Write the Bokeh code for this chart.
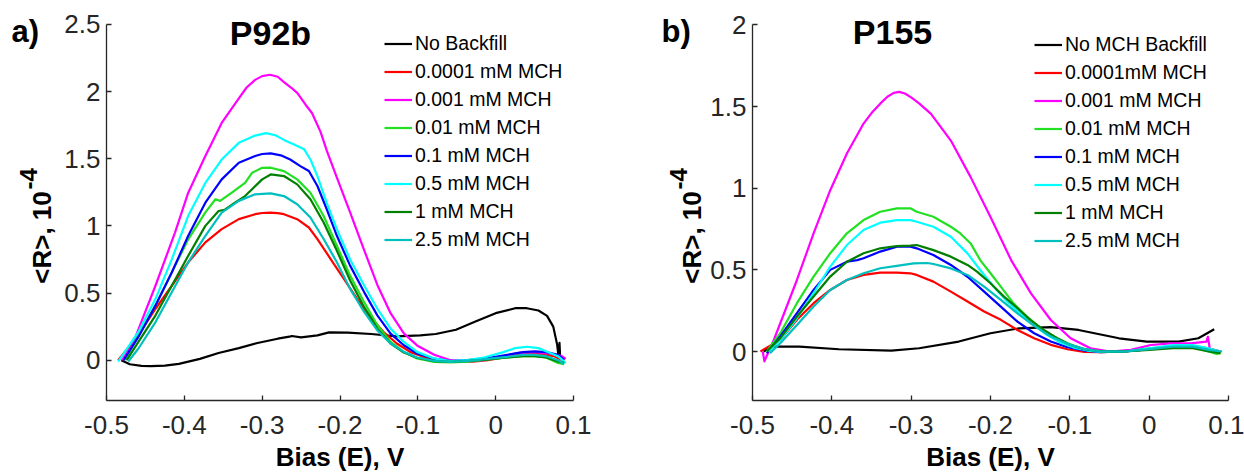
import math
from bokeh.plotting import figure
from bokeh.models import Range1d, FixedTicker, Label, Legend, LegendItem
from bokeh.layouts import row
from bokeh.embed import file_html
from bokeh.resources import INLINE

# ---------------- data ----------------
x_ticks = [-0.5, -0.4, -0.3, -0.2, -0.1, 0.0, 0.1]
x_tick_labels = ["-0.5", "-0.4", "-0.3", "-0.2", "-0.1", "0", "0.1"]
yL_ticks = [0.0, 0.5, 1.0, 1.5, 2.0, 2.5]
yL_tick_labels = ["0", "0.5", "1", "1.5", "2", "2.5"]
yR_ticks = [0.0, 0.5, 1.0, 1.5, 2.0]
yR_tick_labels = ["0", "0.5", "1", "1.5", "2"]

labels_L = ["No Backfill", "0.0001 mM MCH", "0.001 mM MCH", "0.01 mM MCH",
            "0.1 mM MCH", "0.5 mM MCH", "1 mM MCH", "2.5 mM MCH"]
labels_R = ["No MCH Backfill", "0.0001mM MCH", "0.001 mM MCH", "0.01 mM MCH",
            "0.1 mM MCH", "0.5 mM MCH", "1 mM MCH", "2.5 mM MCH"]
colors = ["#000000", "#ff0000", "#ff00ff", "#22e022", "#0000ff", "#00ffff", "#007f00", "#00bfbf"]

# Panel a) P92b
black_L_x = [-0.481, -0.47, -0.455, -0.443, -0.425, -0.407, -0.38, -0.356, -0.33, -0.306, -0.28, -0.265,
             -0.262, -0.25, -0.229, -0.214, -0.19, -0.16, -0.127, -0.097, -0.077, -0.051, -0.026, 0.0,
             0.025, 0.04, 0.055, 0.066, 0.074, 0.079, 0.081, 0.082, 0.083]
black_L_y = [0.0, -0.03, -0.042, -0.044, -0.04, -0.027, 0.01, 0.054, 0.09, 0.128, 0.16, 0.175,
             0.18, 0.17, 0.185, 0.207, 0.205, 0.195, 0.177, 0.185, 0.195, 0.227, 0.288, 0.35,
             0.387, 0.387, 0.37, 0.33, 0.25, 0.116, 0.02, 0.13, 0.0]
red_L_x = [-0.485, -0.459, -0.437, -0.416, -0.395, -0.373, -0.352, -0.33, -0.309, -0.3, -0.29, -0.28,
           -0.272, -0.255, -0.24, -0.229, -0.212, -0.195, -0.178, -0.161, -0.144, -0.127, -0.11, -0.092,
           -0.075, -0.05, -0.03, -0.01, 0.01, 0.03, 0.045, 0.06, 0.075, 0.086]
red_L_y = [0.0, 0.186, 0.383, 0.556, 0.729, 0.877, 0.976, 1.05, 1.087, 1.096, 1.099, 1.095,
           1.087, 1.05, 0.988, 0.902, 0.753, 0.605, 0.457, 0.321, 0.21, 0.124, 0.062, 0.025,
           0.0, -0.012, -0.01, 0.0, 0.02, 0.045, 0.05, 0.045, 0.03, 0.0]
mag_L_x = [-0.48, -0.467, -0.437, -0.412, -0.395, -0.373, -0.352, -0.33, -0.32, -0.309, -0.3, -0.29,
           -0.28, -0.272, -0.263, -0.255, -0.244, -0.236, -0.225, -0.217, -0.204, -0.187, -0.169, -0.152,
           -0.135, -0.118, -0.101, -0.079, -0.058, -0.037, -0.015, 0.01, 0.03, 0.05, 0.07, 0.085, 0.09]
mag_L_y = [0.0, 0.11, 0.556, 0.95, 1.247, 1.52, 1.766, 1.95, 2.03, 2.087, 2.115, 2.125,
           2.11, 2.07, 2.03, 1.99, 1.90, 1.84, 1.70, 1.56, 1.36, 1.10, 0.82, 0.56,
           0.35, 0.2, 0.11, 0.04, 0.0, -0.01, 0.0, 0.03, 0.055, 0.06, 0.05, 0.03, 0.01]
grn_L_x = [-0.476, -0.459, -0.437, -0.416, -0.395, -0.373, -0.36, -0.354, -0.339, -0.322, -0.313, -0.3,
           -0.289, -0.272, -0.255, -0.238, -0.221, -0.204, -0.187, -0.169, -0.152, -0.135, -0.118, -0.101,
           -0.079, -0.058, -0.035, -0.01, 0.015, 0.035, 0.05, 0.065, 0.08, 0.088]
grn_L_y = [0.0, 0.186, 0.408, 0.655, 0.9, 1.10, 1.198, 1.186, 1.247, 1.32, 1.395, 1.432,
           1.433, 1.408, 1.346, 1.247, 1.074, 0.852, 0.63, 0.432, 0.26, 0.136, 0.062, 0.013,
           -0.012, -0.017, -0.01, 0.005, 0.02, 0.03, 0.03, 0.02, -0.02, -0.03]
blu_L_x = [-0.478, -0.459, -0.437, -0.416, -0.395, -0.373, -0.352, -0.33, -0.309, -0.3, -0.289, -0.276,
           -0.264, -0.251, -0.24, -0.229, -0.217, -0.204, -0.187, -0.169, -0.152, -0.135, -0.118, -0.101,
           -0.079, -0.058, -0.035, -0.01, 0.015, 0.035, 0.05, 0.065, 0.08, 0.088]
blu_L_y = [0.0, 0.173, 0.408, 0.655, 0.926, 1.173, 1.346, 1.47, 1.52, 1.535, 1.54, 1.525,
           1.494, 1.445, 1.408, 1.297, 1.124, 0.926, 0.704, 0.507, 0.334, 0.198, 0.111, 0.05,
           0.012, -0.007, 0.0, 0.015, 0.04, 0.06, 0.065, 0.06, 0.04, 0.0]
cyn_L_x = [-0.485, -0.459, -0.437, -0.416, -0.395, -0.373, -0.352, -0.33, -0.309, -0.295, -0.283, -0.272,
           -0.259, -0.246, -0.238, -0.229, -0.217, -0.204, -0.187, -0.169, -0.152, -0.135, -0.118, -0.101,
           -0.079, -0.058, -0.037, -0.015, 0.01, 0.025, 0.04, 0.055, 0.07, 0.08, 0.09]
cyn_L_y = [-0.01, 0.21, 0.457, 0.753, 1.075, 1.32, 1.494, 1.618, 1.672, 1.69, 1.675, 1.64,
           1.605, 1.57, 1.494, 1.37, 1.17, 0.975, 0.75, 0.556, 0.383, 0.235, 0.136, 0.062,
           0.013, -0.007, 0.0, 0.02, 0.06, 0.09, 0.10, 0.09, 0.054, 0.03, -0.02]
dgr_L_x = [-0.474, -0.459, -0.437, -0.416, -0.395, -0.373, -0.356, -0.348, -0.335, -0.322, -0.311, -0.3,
           -0.289, -0.272, -0.255, -0.238, -0.221, -0.204, -0.187, -0.169, -0.152, -0.135, -0.118, -0.101,
           -0.079, -0.058, -0.035, -0.01, 0.015, 0.035, 0.05, 0.065, 0.08, 0.088]
dgr_L_y = [0.0, 0.136, 0.334, 0.556, 0.778, 1.0, 1.111, 1.12, 1.173, 1.222, 1.284, 1.346,
           1.383, 1.371, 1.309, 1.198, 1.025, 0.815, 0.593, 0.395, 0.235, 0.124, 0.057, 0.018,
           -0.007, -0.012, -0.005, 0.005, 0.02, 0.03, 0.03, 0.02, -0.01, -0.02]
tea_L_x = [-0.472, -0.459, -0.437, -0.416, -0.395, -0.373, -0.352, -0.33, -0.309, -0.289, -0.272, -0.255,
           -0.238, -0.221, -0.204, -0.187, -0.169, -0.152, -0.135, -0.118, -0.101, -0.079, -0.058, -0.035,
           -0.01, 0.015, 0.035, 0.05, 0.065, 0.08, 0.088]
tea_L_y = [-0.01, 0.087, 0.284, 0.507, 0.729, 0.926, 1.099, 1.186, 1.235, 1.242, 1.222, 1.161,
           1.062, 0.902, 0.729, 0.531, 0.359, 0.222, 0.124, 0.062, 0.02, -0.005, -0.012, -0.005,
           0.01, 0.025, 0.04, 0.04, 0.03, 0.0, -0.03]

# Panel b) P155
black_R_x = [-0.486, -0.476, -0.441, -0.391, -0.325, -0.29, -0.24, -0.2, -0.164, -0.124, -0.089, -0.038,
             -0.003, 0.037, 0.062, 0.082]
black_R_y = [0.0, 0.03, 0.03, 0.014, 0.006, 0.02, 0.061, 0.112, 0.142, 0.149, 0.132, 0.081,
             0.061, 0.061, 0.081, 0.136]
red_R_x = [-0.49, -0.465, -0.444, -0.423, -0.402, -0.381, -0.36, -0.339, -0.318, -0.301, -0.293, -0.272,
           -0.25, -0.229, -0.208, -0.187, -0.166, -0.145, -0.124, -0.103, -0.082, -0.061, -0.035, -0.01,
           0.015, 0.04, 0.06, 0.075, 0.09]
red_R_y = [0.0, 0.072, 0.194, 0.296, 0.377, 0.438, 0.469, 0.483, 0.483, 0.479, 0.469, 0.428,
           0.367, 0.306, 0.245, 0.194, 0.132, 0.081, 0.041, 0.014, -0.002, -0.004, 0.0, 0.01,
           0.02, 0.03, 0.03, 0.02, 0.0]
mag_R_x = [-0.487, -0.485, -0.473, -0.444, -0.423, -0.402, -0.381, -0.36, -0.35, -0.339, -0.33, -0.322,
           -0.315, -0.308, -0.3, -0.29, -0.275, -0.25, -0.225, -0.2, -0.174, -0.149, -0.124, -0.099,
           -0.074, -0.049, -0.023, 0.002, 0.027, 0.052, 0.072, 0.074, 0.077]
mag_R_y = [0.0, -0.06, 0.072, 0.438, 0.724, 0.988, 1.213, 1.396, 1.46, 1.518, 1.56, 1.584,
           1.59, 1.58, 1.556, 1.52, 1.455, 1.292, 1.068, 0.824, 0.56, 0.356, 0.193, 0.081,
           0.02, 0.0, 0.01, 0.04, 0.05, 0.05, 0.06, 0.09, 0.0]
grn_R_x = [-0.482, -0.465, -0.444, -0.423, -0.402, -0.381, -0.36, -0.339, -0.318, -0.301, -0.293, -0.272,
           -0.25, -0.238, -0.225, -0.213, -0.2, -0.187, -0.171, -0.154, -0.137, -0.12, -0.103, -0.086,
           -0.07, -0.053, -0.03, 0.0, 0.03, 0.055, 0.075, 0.085, 0.09]
grn_R_y = [0.0, 0.112, 0.296, 0.459, 0.602, 0.724, 0.805, 0.856, 0.877, 0.877, 0.856, 0.825,
           0.764, 0.723, 0.662, 0.56, 0.479, 0.397, 0.295, 0.214, 0.143, 0.092, 0.051, 0.02,
           0.006, 0.0, 0.0, 0.02, 0.03, 0.03, 0.0, -0.015, -0.01]
blu_R_x = [-0.482, -0.465, -0.444, -0.423, -0.402, -0.381, -0.368, -0.36, -0.339, -0.318, -0.301, -0.293,
           -0.272, -0.25, -0.229, -0.208, -0.187, -0.166, -0.145, -0.124, -0.103, -0.082, -0.061, -0.03,
           0.0, 0.03, 0.055, 0.075, 0.09]
blu_R_y = [-0.01, 0.092, 0.235, 0.377, 0.5, 0.55, 0.56, 0.571, 0.612, 0.642, 0.642, 0.632,
           0.591, 0.53, 0.458, 0.367, 0.275, 0.183, 0.112, 0.061, 0.026, 0.006, -0.004, 0.0,
           0.015, 0.03, 0.03, 0.01, 0.0]
cyn_R_x = [-0.48, -0.465, -0.444, -0.423, -0.402, -0.381, -0.36, -0.339, -0.318, -0.301, -0.293, -0.272,
           -0.25, -0.229, -0.213, -0.196, -0.179, -0.162, -0.145, -0.129, -0.112, -0.095, -0.078, -0.061,
           -0.03, 0.0, 0.03, 0.055, 0.075, 0.09]
cyn_R_y = [0.0, 0.072, 0.204, 0.357, 0.52, 0.652, 0.744, 0.789, 0.805, 0.805, 0.795, 0.764,
           0.703, 0.601, 0.499, 0.397, 0.306, 0.234, 0.163, 0.102, 0.055, 0.024, 0.006, -0.002,
           0.0, 0.02, 0.04, 0.04, 0.02, 0.0]
dgr_R_x = [-0.482, -0.465, -0.444, -0.423, -0.402, -0.381, -0.36, -0.339, -0.318, -0.301, -0.293, -0.272,
           -0.25, -0.229, -0.217, -0.2, -0.183, -0.166, -0.15, -0.133, -0.116, -0.1, -0.082, -0.061,
           -0.03, 0.0, 0.03, 0.055, 0.075, 0.09]
dgr_R_y = [0.0, 0.082, 0.214, 0.337, 0.459, 0.55, 0.602, 0.632, 0.646, 0.648, 0.652, 0.621,
           0.581, 0.53, 0.489, 0.418, 0.336, 0.265, 0.194, 0.132, 0.081, 0.041, 0.014, 0.0,
           0.0, 0.01, 0.02, 0.02, 0.0, -0.01]
tea_R_x = [-0.478, -0.465, -0.444, -0.423, -0.402, -0.381, -0.36, -0.339, -0.318, -0.297, -0.28, -0.272,
           -0.25, -0.229, -0.208, -0.187, -0.166, -0.145, -0.124, -0.103, -0.082, -0.061, -0.03, 0.0,
           0.03, 0.055, 0.075, 0.092]
tea_R_y = [-0.01, 0.051, 0.163, 0.276, 0.377, 0.438, 0.479, 0.51, 0.525, 0.54, 0.542, 0.536,
           0.509, 0.469, 0.397, 0.316, 0.234, 0.157, 0.092, 0.047, 0.016, 0.0, 0.0, 0.015,
           0.03, 0.03, 0.01, 0.0]

series_L = [(black_L_x, black_L_y), (red_L_x, red_L_y), (mag_L_x, mag_L_y), (grn_L_x, grn_L_y),
            (blu_L_x, blu_L_y), (cyn_L_x, cyn_L_y), (dgr_L_x, dgr_L_y), (tea_L_x, tea_L_y)]
series_R = [(black_R_x, black_R_y), (red_R_x, red_R_y), (mag_R_x, mag_R_y), (grn_R_x, grn_R_y),
            (blu_R_x, blu_R_y), (cyn_R_x, cyn_R_y), (dgr_R_x, dgr_R_y), (tea_R_x, tea_R_y)]

FONT = "Liberation Sans"
AXIS_COLOR = "#262626"
H = 474


def text_strip(width, texts):
    """A blank figure whose frame is the whole canvas, holding texts placed in pixels."""
    s = figure(width=width, height=H, output_backend="svg", toolbar_location=None, title=None,
               x_axis_type=None, y_axis_type=None, frame_align=False,
               x_range=Range1d(0, width), y_range=Range1d(0, H),
               min_border_left=0, min_border_right=0, min_border_top=0, min_border_bottom=0)
    s.outline_line_color = None
    s.xgrid.visible = False
    s.ygrid.visible = False
    for (txt, px, py, size, align, angle) in texts:
        s.add_layout(Label(x=px, y=H - py, text=txt, text_font=FONT, text_font_size=size,
                           text_font_style="bold", text_align=align, text_baseline="middle",
                           angle=angle, text_color="#000000"))
    return s


def make_panel(fig_left, width, border, axis_top_px, yr, yticks, ytick_labels, series, labels,
               title, legend_xy, ystand):
    # the frame reaches the canvas top so the title is not clipped; the y axis line
    # is bounded to the data range, whose top sits at axis_top_px
    left, right, bottom = border
    xr = (-0.5, 0.1)
    frame_h = H - bottom
    px_per_unit = (frame_h - axis_top_px) / (yr[1] - yr[0])
    y_end = yr[0] + frame_h / px_per_unit
    p = figure(width=width, height=H, output_backend="svg", toolbar_location=None, title=None,
               frame_align=False,
               x_range=Range1d(*xr), y_range=Range1d(yr[0], y_end),
               min_border_left=left, min_border_right=right,
               min_border_top=0, min_border_bottom=bottom)
    p.outline_line_color = None
    p.xgrid.visible = False
    p.ygrid.visible = False

    for ax, ticks, tlabels, stand in ((p.xaxis[0], x_ticks, x_tick_labels, 15),
                                      (p.yaxis[0], yticks, ytick_labels, ystand)):
        ax.ticker = FixedTicker(ticks=ticks)
        ax.major_label_overrides = {t: l for t, l in zip(ticks, tlabels)}
        ax.minor_tick_line_color = None
        ax.major_tick_in = 5
        ax.major_tick_out = 0
        ax.major_tick_line_color = AXIS_COLOR
        ax.major_tick_line_width = 1.3
        ax.axis_line_color = AXIS_COLOR
        ax.axis_line_width = 1.3
        ax.major_label_text_font = FONT
        ax.major_label_text_font_size = "26px"
        ax.major_label_text_color = AXIS_COLOR
        ax.major_label_standoff = stand
    p.yaxis[0].bounds = yr

    p.xaxis.axis_label = "Bias (E), V"
    p.xaxis.axis_label_text_font = FONT
    p.xaxis.axis_label_text_font_size = "26px"
    p.xaxis.axis_label_text_font_style = "bold"
    p.xaxis.axis_label_text_color = "#000000"
    p.xaxis.axis_label_standoff = 5

    items = []
    for (xs, ys), c, lab in zip(series, colors, labels):
        r = p.line(xs, ys, line_color=c, line_width=2.2, line_join="round")
        items.append(LegendItem(label=lab, renderers=[r]))

    leg = Legend(items=items, location=legend_xy, orientation="vertical",
                 label_text_font=FONT, label_text_font_size="19.5px", label_text_color="#000000",
                 glyph_width=28, glyph_height=21, label_height=21, label_standoff=3,
                 spacing=5, padding=0, margin=0, border_line_color=None,
                 background_fill_alpha=0)
    p.add_layout(leg, "center")

    # title text inside the frame, placed from page pixels
    fx0 = fig_left + left
    fw = width - left - right
    txt, px, py = title
    p.add_layout(Label(x=xr[0] + (px - fx0) / fw * (xr[1] - xr[0]),
                       y=yr[0] + (frame_h - py) / px_per_unit,
                       text=txt, text_font=FONT, text_font_size="34px", text_font_style="bold",
                       text_align="center", text_baseline="middle", text_color="#000000"))
    return p


# page layout (pixels): [strip a | panel a | strip b | panel b]
WA, WL, WB = 58, 570, 78
WR = 1244 - WA - WL - WB

strip_a = text_strip(WA, [("a)", 11, 31, "31px", "left", 0),
                          ("<R>, 10", 41, 237, "26px", "center", math.pi / 2),
                          ("-4", 27.5, 189, "24px", "left", math.pi / 2)])
strip_b = text_strip(WB, [("b)", 661 - WA - WL, 31, "31px", "left", 0),
                          ("<R>, 10", 691 - WA - WL, 237, "26px", "center", math.pi / 2),
                          ("-4", 677.5 - WA - WL, 189, "24px", "left", math.pi / 2)])

pL = make_panel(WA, WL, (48, 55, 72), 24, (-0.3, 2.5), yL_ticks, yL_tick_labels,
                series_L, labels_L, ("P92b", 270, 33), (278, 149), 6)
pR = make_panel(WA + WL + WB, WR, (46, 16, 73), 24.5, (-0.3, 2.0), yR_ticks, yR_tick_labels,
                series_R, labels_R, ("P155", 892, 32), (282, 148), 6)

layout = row(strip_a, pL, strip_b, pR)
open("out.html", "w").write(file_html(layout, INLINE))
